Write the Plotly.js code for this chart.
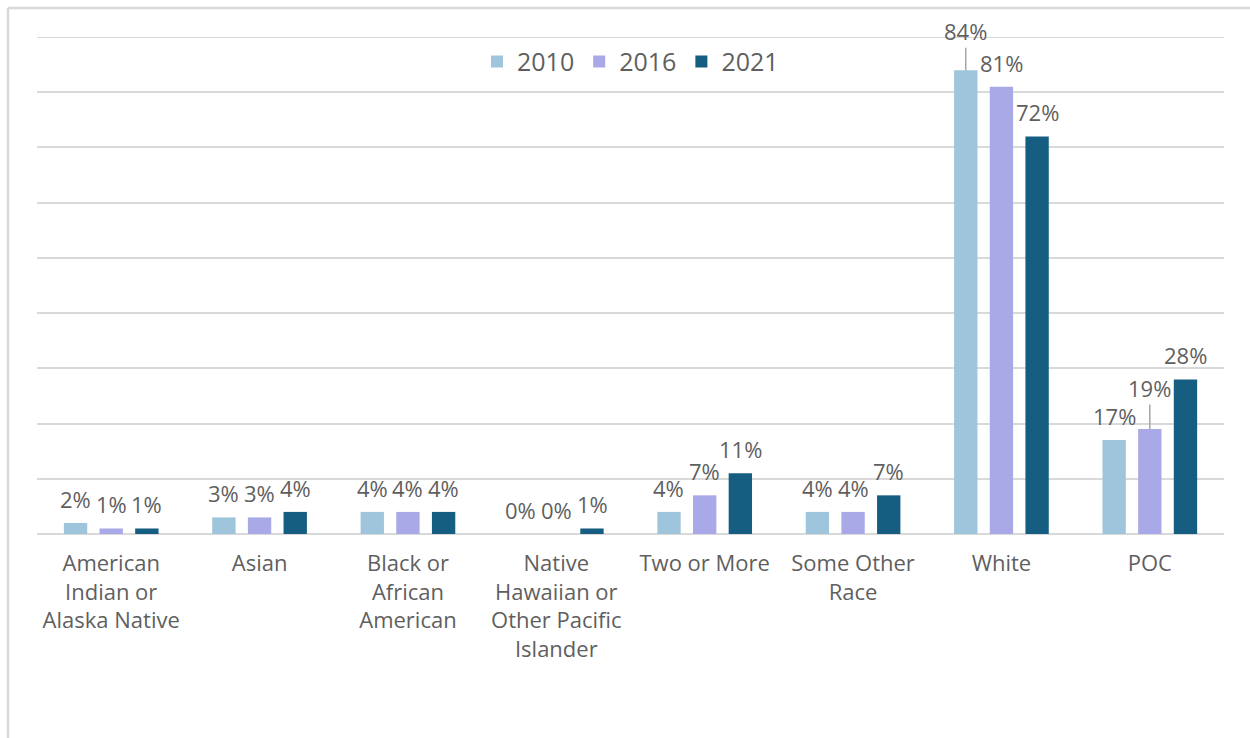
<!DOCTYPE html>
<html><head><meta charset="utf-8">
<script src="https://cdn.plot.ly/plotly-3.0.1.min.js"></script>
<style>html,body{margin:0;padding:0;background:#fff}#chart{width:1250px;height:738px}</style>
</head><body><div id="chart"></div>
<script>
const categories = ["American<br>Indian or<br>Alaska Native", "Asian", "Black or<br>African<br>American", "Native<br>Hawaiian or<br>Other Pacific<br>Islander", "Two or More", "Some Other<br>Race", "White", "POC"];
const v2010 = [2, 3, 4, 0, 4, 4, 84, 17];
const v2016 = [1, 3, 4, 0, 7, 4, 81, 19];
const v2021 = [1, 4, 4, 1, 11, 7, 72, 28];
const seriesNames = ["2010", "2016", "2021"];
const seriesValues = [v2010, v2016, v2021];
const colors = ["#9fc5dc", "#a9a9e8", "#165e81"];
// labels that are pulled away from their bar with a leader line: [series, category index, pixel lift]
const leaderLabels = [[0, 6, -39], [1, 7, -41]];
const yMax = 90;

const textColor = "#5f5f5f";
const font = "'Open Sans', sans-serif";
const slot = 35.7;

const traces = seriesValues.map((vals, s) => ({
  type: "bar", name: seriesNames[s], x: categories, y: vals,
  marker: {color: colors[s]}, hoverinfo: "skip"
}));

const annotations = [];
seriesValues.forEach((vals, s) => {
  vals.forEach((v, i) => {
    const lead = leaderLabels.find(l => l[0] === s && l[1] === i);
    const base = {x: categories[i], y: v, xref: "x", yref: "y", text: v + "%",
      xshift: (s - 1) * slot, font: {family: font, size: 22, color: textColor}};
    if (lead) {
      annotations.push(Object.assign(base, {showarrow: true, arrowhead: 0, arrowwidth: 1.5,
        arrowcolor: "#a6a6a6", ax: 0, ay: lead[2], standoff: 0}));
    } else {
      annotations.push(Object.assign(base, {showarrow: false, yanchor: "bottom", yshift: 7}));
    }
  });
});

const L = 37, T = 37, W = 1187, H = 497;
const fx = (px) => (px - L) / W;
const fy = (py) => (T + H - py) / H;
const frame = "#d9d9d9";
const shapes = [
  {type: "line", xref: "paper", yref: "y", x0: 0, x1: 1, y0: yMax, y1: yMax, line: {color: "#d9d9d9", width: 2}, layer: "below"},
  {type: "line", xref: "paper", yref: "paper", x0: fx(8), x1: fx(8), y0: fy(8), y1: fy(760), line: {color: frame, width: 2.5}},
  {type: "line", xref: "paper", yref: "paper", x0: fx(8), x1: fx(1260), y0: fy(8), y1: fy(8), line: {color: frame, width: 2.5}}
];

const layout = {
  width: 1250, height: 738,
  margin: {l: L, r: 1250 - L - W, t: T, b: 738 - T - H},
  paper_bgcolor: "#fff", plot_bgcolor: "#fff",
  bargap: 0.279, bargroupgap: 0.345,
  font: {family: font, color: textColor},
  showlegend: true,
  legend: {orientation: "h", x: 0.5, xanchor: "center", y: 0.95, yanchor: "middle",
    font: {family: font, size: 25, color: textColor}, bgcolor: "rgba(0,0,0,0)", itemwidth: 30},
  xaxis: {type: "category", showgrid: false, zeroline: false, showline: false, ticks: "",
    tickfont: {family: font, size: 22, color: textColor}, ticklabelstandoff: 14, fixedrange: true},
  yaxis: {range: [0, yMax], dtick: 10, showgrid: true, gridcolor: "#d9d9d9", gridwidth: 2,
    zeroline: true, zerolinecolor: "#d9d9d9", zerolinewidth: 2, showticklabels: false, ticks: "", fixedrange: true},
  annotations: annotations,
  shapes: shapes
};

Plotly.newPlot("chart", traces, layout, {displayModeBar: false, staticPlot: true});
</script>
</body></html>
